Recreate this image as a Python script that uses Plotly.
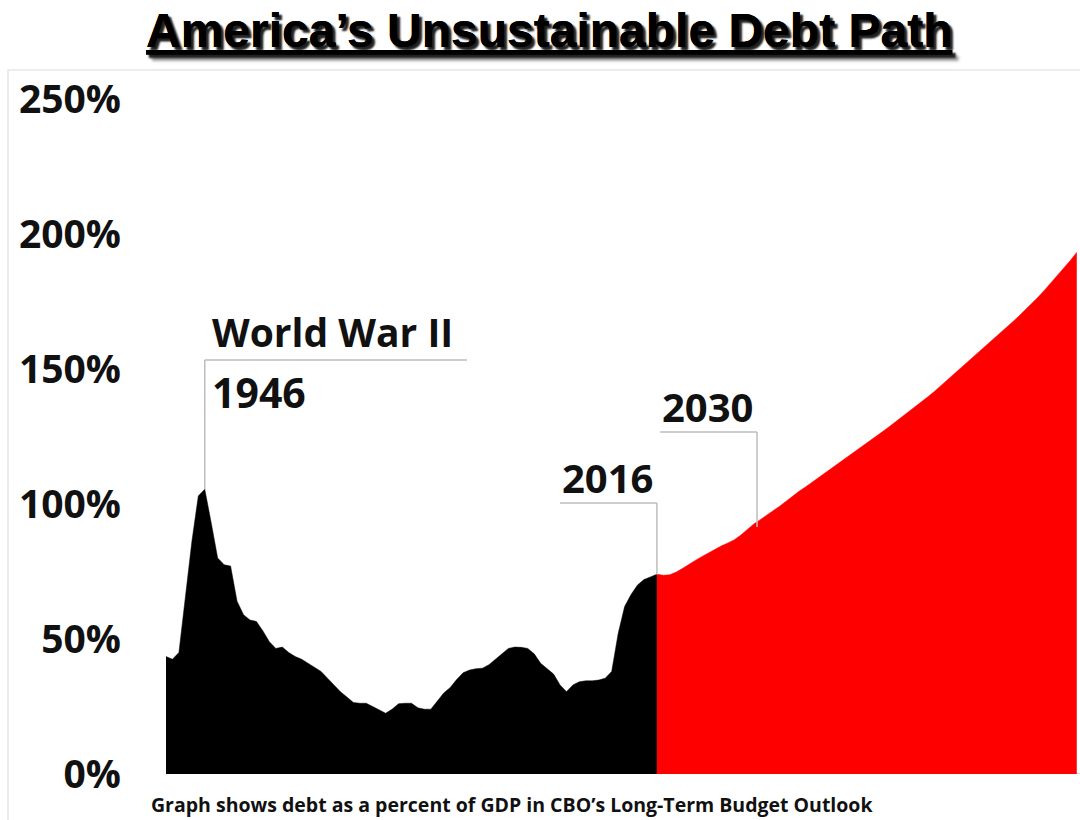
import plotly.graph_objects as go

# ---------------- data ----------------
hist_years = list(range(1940, 2017))
hist_debt = [43.5, 42.5, 45, 65, 86, 103, 105.5, 93, 80, 77.5,
             77, 64, 59, 57, 56.5, 53, 49, 46.5, 47, 45,
             43.5, 42.5, 41, 39.5, 38, 35.5, 33, 30.5, 28.5, 26.5,
             26.2, 26.2, 25, 23.8, 22.5, 24, 26, 26.2, 26.2, 24.5,
             24, 24, 27, 30, 32, 35, 37.5, 38.5, 39, 39.2,
             40.5, 42.5, 44.5, 46.5, 47, 46.9, 46.5, 44.5, 41, 39,
             37, 33, 30.5, 33, 34.2, 34.5, 34.5, 34.8, 35.5, 38,
             52, 62, 66.5, 70, 72, 73, 74]

proj_years = list(range(2016, 2082))
proj_debt = [74.0, 73.6, 73.8, 74.8, 76.2, 77.8, 79.2, 80.6, 82.0, 83.2,
             84.5, 85.6, 86.8, 88.5, 90.6, 92.6, 94.2, 95.8, 97.5, 99.2,
             101.0, 102.9, 104.7, 106.3, 108.0, 109.8, 111.5, 113.2, 114.9, 116.5,
             118.2, 119.8, 121.5, 123.3, 125.1, 126.9, 128.7, 130.5, 132.4, 134.2,
             136.0, 137.9, 139.8, 141.8, 143.9, 146.0, 148.1, 150.2, 152.3, 154.4,
             156.5, 158.6, 160.8, 162.9, 165.1, 167.3, 169.5, 171.8, 174.1, 176.6,
             179.2, 181.9, 184.6, 187.3, 190.2, 193.2]

y_ticks = [0, 50, 100, 150, 200, 250]
y_tick_labels = ["0%", "50%", "100%", "150%", "200%", "250%"]

title_text = "America\u2019s Unsustainable Debt Path"
footnote = "Graph shows debt as a percent of GDP in CBO\u2019s Long-Term Budget Outlook"

# callouts: label lines, anchor x (year), line top (value), line bottom (value), horizontal end (year)
callout_labels = [["World War II", "1946"], ["2016"], ["2030"]]
callout_x = [1946, 2016, 2031.5]
callout_top = [153.3, 100.4, 126.7]
callout_bottom = [105.5, 74.0, 91.5]
callout_hend = [1986.6, 2001.0, 2016.5]

# ---------------- layout geometry ----------------
W, H = 1080, 820
L, R, T, B = 166, 0, 99, 46
PW, PH = W - L - R, H - T - B


def px_x(x):
    return (x - L) / PW


def px_y(y):
    return (H - B - y) / PH


FONT = "Open Sans"

fig = go.Figure()
fig.add_trace(go.Scatter(x=hist_years, y=hist_debt, mode="lines",
                         line=dict(color="#000000", width=0.5),
                         fill="tozeroy", fillcolor="#000000",
                         hoverinfo="skip", showlegend=False))
fig.add_trace(go.Scatter(x=proj_years, y=proj_debt, mode="lines",
                         line=dict(color="#ff0000", width=0.5),
                         fill="tozeroy", fillcolor="#ff0000",
                         hoverinfo="skip", showlegend=False))

shapes = []
annotations = []

# outer light frame
shapes.append(dict(type="rect", xref="paper", yref="paper",
                   x0=px_x(8), x1=px_x(1090), y0=px_y(830), y1=px_y(70),
                   line=dict(color="#e6e6e6", width=1.5), layer="below"))
# baseline
shapes.append(dict(type="line", xref="paper", yref="y", x0=0, x1=1, y0=0, y1=0,
                   line=dict(color="#c8c8c8", width=1.5), layer="below"))

# title (underlined, with drop shadow)
annotations.append(dict(text=title_text, xref="paper", yref="paper",
                        x=px_x(549), y=px_y(31), showarrow=False,
                        xanchor="center", yanchor="middle",
                        font=dict(family="Liberation Sans", size=48, color="#000000",
                                  weight="bold", lineposition="under",
                                  shadow="3px 3px 2px rgba(0,0,0,0.65)")))

# callouts
for labels, cx, top, bot, hend in zip(callout_labels, callout_x, callout_top,
                                      callout_bottom, callout_hend):
    shapes.append(dict(type="line", xref="x", yref="y", x0=cx, x1=cx, y0=bot, y1=top,
                       line=dict(color="#bdbdbd", width=1.5)))
    shapes.append(dict(type="line", xref="x", yref="y", x0=min(cx, hend), x1=max(cx, hend),
                       y0=top, y1=top, line=dict(color="#bdbdbd", width=1.5)))
    if len(labels) == 2:
        annotations.append(dict(text=f"<b>{labels[0]}</b>", x=cx, y=top, xref="x", yref="y",
                                xanchor="left", yanchor="bottom", xshift=5, yshift=0,
                                showarrow=False,
                                font=dict(family=FONT, size=39, color="#111111")))
        annotations.append(dict(text=f"<b>{labels[1]}</b>", x=cx, y=top, xref="x", yref="y",
                                xanchor="left", yanchor="top", xshift=5, yshift=-2,
                                showarrow=False,
                                font=dict(family=FONT, size=41, color="#111111")))
    else:
        annotations.append(dict(text=f"<b>{labels[0]}</b>",
                                x=hend if hend > cx else cx, y=top, xref="x", yref="y",
                                xanchor="right" if hend < cx else "left",
                                yanchor="bottom", yshift=-4,
                                xshift=-2 if hend < cx else 0,
                                showarrow=False,
                                font=dict(family=FONT, size=40, color="#111111")))

# footnote
annotations.append(dict(text=f"<b>{footnote}</b>", xref="paper", yref="paper",
                        x=px_x(149), y=px_y(804), xanchor="left", yanchor="middle",
                        showarrow=False,
                        font=dict(family=FONT, size=19.5, color="#111111")))

fig.update_layout(
    width=W, height=H,
    margin=dict(l=L, r=R, t=T, b=B),
    paper_bgcolor="white", plot_bgcolor="white",
    shapes=shapes, annotations=annotations,
    showlegend=False,
    xaxis=dict(range=[1940, 2081.5], visible=False, fixedrange=True),
    yaxis=dict(range=[0, 250], tickvals=y_ticks, ticktext=y_tick_labels,
               showgrid=False, zeroline=False, showline=False, ticks="",
               ticklabelstandoff=44,
               tickfont=dict(family=FONT, size=39, color="#111111", weight="bold"),
               fixedrange=True),
)

fig.write_html("out.html", config={"displayModeBar": False},
               post_script="document.body.style.margin='0px';")
